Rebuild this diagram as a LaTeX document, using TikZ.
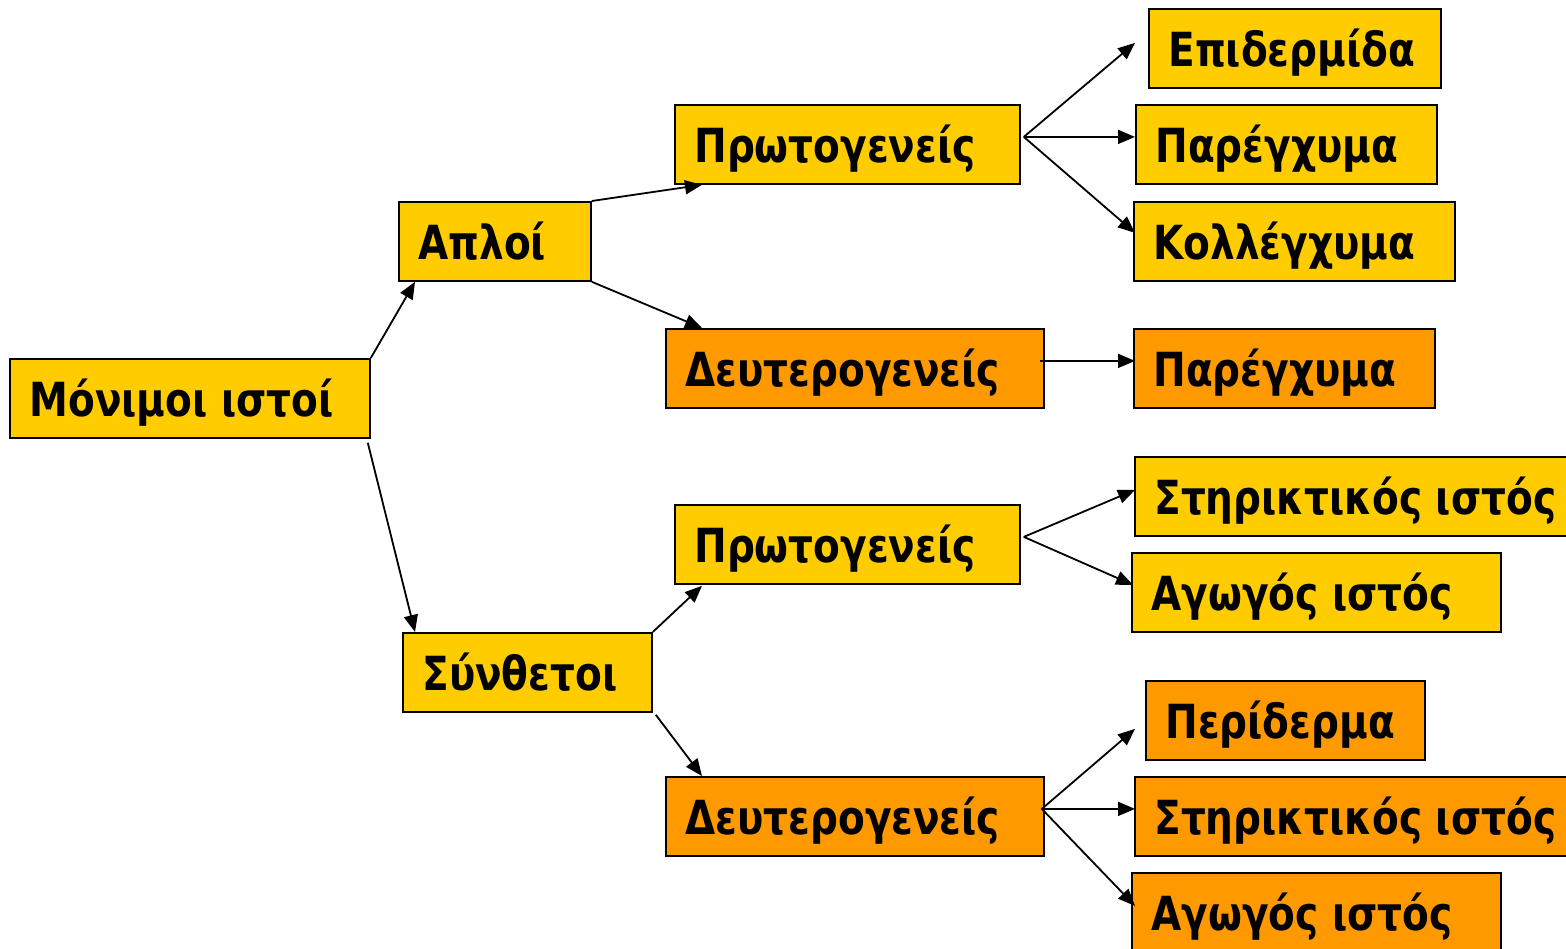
\documentclass[tikz,border=0pt]{standalone}
\usepackage{fontspec}
\setmainfont{DejaVu Sans}
\usetikzlibrary{arrows.meta}
\definecolor{yel}{HTML}{FFCC00}
\definecolor{org}{HTML}{FF9900}
\newcommand{\bx}[6]{\node[box,fill=#5] (#1) at (#2,#3) {\makebox[#4pt][l]{\hspace*{-2.5pt}\scalebox{0.83}[1]{#6}}};}
\begin{document}
\begin{tikzpicture}[x=1pt,y=-1pt,
  box/.style={draw=black, line width=1.8pt, inner xsep=22pt, inner ysep=0pt,
    text height=58pt, text depth=21pt, anchor=north west,
    font=\bfseries\fontsize{47}{47}\selectfont},
  arr/.style={line width=1.8pt, -{Triangle[length=17pt,width=14pt]}}]
\useasboundingbox (0,0) rectangle (1566,948);
\bx{mon}{9}{358}{316}{yel}{Μόνιμοι ιστοί}
\bx{apl}{398}{201}{148}{yel}{Απλοί}
\bx{syn}{402}{632}{205}{yel}{Σύνθετοι}
\bx{p1}{674}{104}{301}{yel}{Πρωτογενείς}
\bx{d1}{665}{328}{334}{org}{Δευτερογενείς}
\bx{p2}{674}{504}{301}{yel}{Πρωτογενείς}
\bx{d2}{665}{776}{334}{org}{Δευτερογενείς}
\bx{epi}{1148}{8}{248}{yel}{Επιδερμίδα}
\bx{par1}{1135}{104}{257}{yel}{Παρέγχυμα}
\bx{kol}{1133}{201}{277}{yel}{Κολλέγχυμα}
\bx{par2}{1133}{328}{257}{org}{Παρέγχυμα}
\bx{str1}{1134}{456}{392}{yel}{Στηρικτικός ιστός}
\bx{agw1}{1131}{552}{325}{yel}{Αγωγός ιστός}
\bx{per}{1145}{680}{235}{org}{Περίδερμα}
\bx{str2}{1134}{776}{392}{org}{Στηρικτικός ιστός}
\bx{agw2}{1131}{872}{325}{org}{Αγωγός ιστός}
% level 1
\draw[arr] (mon.north east) -- ([xshift=17pt]apl.south west);
\draw[arr] ([xshift=-3pt,yshift=-4pt]mon.south east) -- ([xshift=13pt]syn.north west);
% level 2
\draw[arr] (apl.north east) -- ([xshift=28pt]p1.south west);
\draw[arr] (apl.south east) -- ([xshift=37pt]d1.north west);
\draw[arr] (syn.north east) -- ([xshift=28pt,yshift=-1pt]p2.south west);
\draw[arr] ([xshift=3pt,yshift=-2pt]syn.south east) -- ([xshift=37pt]d2.north west);
% level 3
\coordinate (p1o) at ([xshift=3pt,yshift=7.5pt]p1.east);
\draw[arr] (p1o) -- ([xshift=-13pt,yshift=5.5pt]epi.west);
\draw[arr] (p1o) -- ([yshift=7.5pt]par1.west);
\draw[arr] (p1o) -- ([xshift=2pt,yshift=8.5pt]kol.west);
\draw[arr] ([xshift=-5pt,yshift=7.5pt]d1.east) -- ([xshift=2pt,yshift=7.5pt]par2.west);
\coordinate (p2o) at ([xshift=3pt,yshift=7.5pt]p2.east);
\draw[arr] (p2o) -- ([xshift=1pt,yshift=6.5pt]str1.west);
\draw[arr] (p2o) -- ([xshift=2pt,yshift=7.5pt]agw1.west);
\coordinate (d2o) at ([xshift=-3pt,yshift=7.5pt]d2.east);
\draw[arr] (d2o) -- ([xshift=-10pt,yshift=-8.5pt]per.west);
\draw[arr] (d2o) -- ([xshift=1pt,yshift=7.5pt]str2.west);
\draw[arr] (d2o) -- ([xshift=4pt,yshift=6.5pt]agw2.west);
\end{tikzpicture}
\end{document}
